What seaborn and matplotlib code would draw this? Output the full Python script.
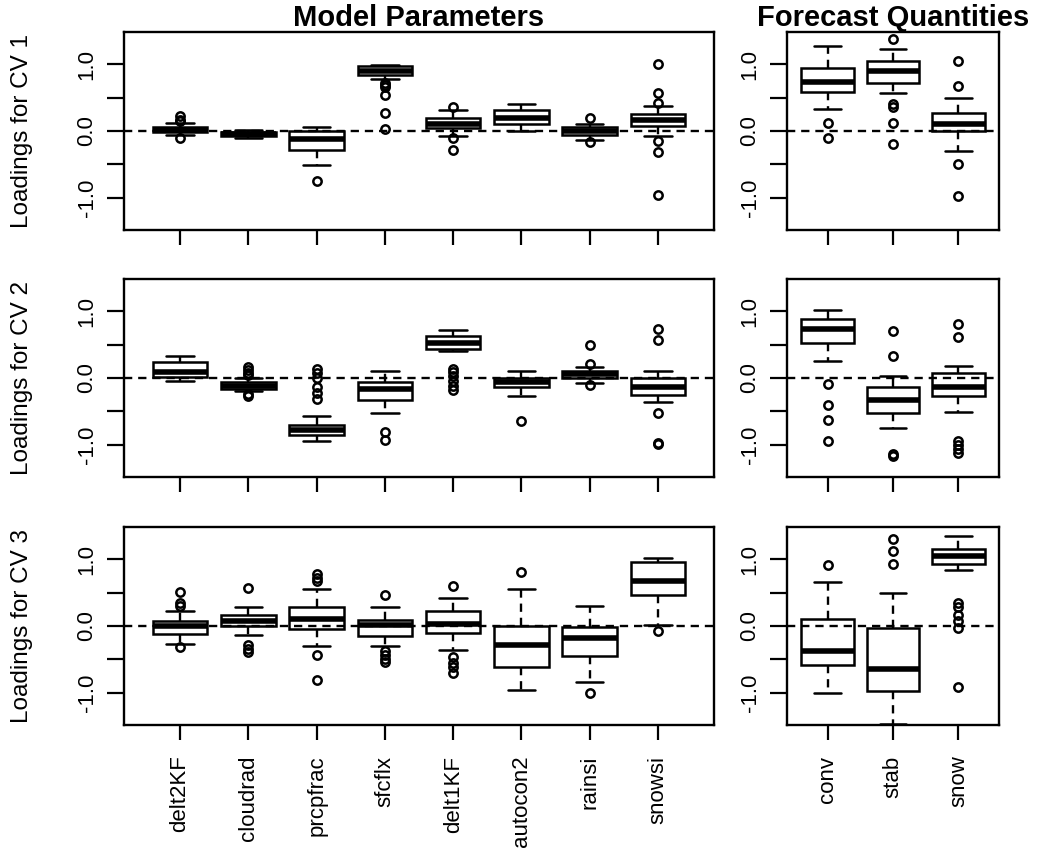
import matplotlib
matplotlib.use("Agg")
import matplotlib.pyplot as plt
import seaborn as sns

# categories
params = ["delt2KF", "cloudrad", "prcpfrac", "sfcflx", "delt1KF", "autocon2", "rainsi", "snowsi"]
quantities = ["conv", "stab", "snow"]

# CV 1 - model parameters (lower whisker, q1, median, q3, upper whisker, outliers)
cv1_par_lo = [-0.06, -0.11, -0.51, 0.77, -0.07, 0.00, -0.13, -0.075]
cv1_par_q1 = [-0.01, -0.08, -0.29, 0.84, 0.04, 0.11, -0.055, 0.07]
cv1_par_med = [0.02, -0.05, -0.125, 0.89, 0.10, 0.20, 0.00, 0.17]
cv1_par_q3 = [0.055, -0.01, 0.00, 0.965, 0.19, 0.32, 0.06, 0.26]
cv1_par_hi = [0.12, 0.02, 0.06, 0.99, 0.32, 0.41, 0.11, 0.37]
cv1_par_out = [[0.23, 0.17, 0.15, -0.10], [], [-0.75], [0.72, 0.69, 0.66, 0.54, 0.27, 0.03],
               [0.36, -0.10, -0.28], [], [0.19, -0.16], [1.0, 0.57, 0.42, -0.15, -0.32, -0.96]]

# CV 1 - forecast quantities
cv1_fq_lo = [0.325, 0.565, -0.30]
cv1_fq_q1 = [0.59, 0.715, 0.005]
cv1_fq_med = [0.74, 0.90, 0.105]
cv1_fq_q3 = [0.94, 1.04, 0.275]
cv1_fq_hi = [1.265, 1.225, 0.49]
cv1_fq_out = [[0.115, -0.10], [1.375, 0.40, 0.365, 0.115, -0.20], [1.04, 0.675, -0.50, -0.975]]

# CV 2 - model parameters
cv2_par_lo = [-0.04, -0.20, -0.94, -0.52, 0.40, -0.27, -0.075, -0.36]
cv2_par_q1 = [0.02, -0.165, -0.85, -0.33, 0.44, -0.14, 0.00, -0.26]
cv2_par_med = [0.09, -0.12, -0.77, -0.16, 0.53, -0.06, 0.06, -0.14]
cv2_par_q3 = [0.24, -0.065, -0.70, -0.065, 0.63, 0.00, 0.11, 0.00]
cv2_par_hi = [0.33, 0.00, -0.57, 0.11, 0.72, 0.10, 0.17, 0.11]
cv2_par_out = [[], [0.16, 0.12, 0.08, 0.05, -0.24, -0.27], [0.14, 0.07, 0.00, -0.13, -0.22, -0.32],
               [-0.80, -0.93], [0.14, 0.09, 0.035, -0.04, -0.12, -0.18], [-0.64],
               [0.49, 0.21, -0.105], [0.73, 0.565, -0.52, -0.975, -0.99]]

# CV 2 - forecast quantities
cv2_fq_lo = [0.26, -0.74, -0.515]
cv2_fq_q1 = [0.525, -0.525, -0.265]
cv2_fq_med = [0.735, -0.325, -0.135]
cv2_fq_q3 = [0.885, -0.135, 0.075]
cv2_fq_hi = [1.015, 0.025, 0.185]
cv2_fq_out = [[-0.085, -0.41, -0.625, -0.935], [0.70, 0.325, -1.135, -1.165],
              [0.80, 0.615, -0.935, -1.0, -1.065, -1.125]]

# CV 3 - model parameters
cv3_par_lo = [-0.27, -0.14, -0.30, -0.30, -0.36, -0.96, -0.84, 0.01]
cv3_par_q1 = [-0.125, 0.00, -0.05, -0.15, -0.10, -0.62, -0.445, 0.465]
cv3_par_med = [-0.005, 0.07, 0.10, 0.01, 0.025, -0.28, -0.18, 0.68]
cv3_par_q3 = [0.075, 0.16, 0.29, 0.095, 0.22, 0.00, -0.015, 0.955]
cv3_par_hi = [0.22, 0.28, 0.555, 0.28, 0.42, 0.55, 0.30, 1.02]
cv3_par_out = [[0.515, 0.34, 0.30, -0.31], [0.575, -0.29, -0.34, -0.39], [0.77, 0.72, 0.67, -0.44, -0.80],
               [0.465, -0.38, -0.44, -0.50, -0.545], [0.60, -0.47, -0.55, -0.62, -0.71], [0.81],
               [-1.0], [-0.075]]

# CV 3 - forecast quantities
cv3_fq_lo = [-1.0, -1.47, 0.835]
cv3_fq_q1 = [-0.58, -0.975, 0.92]
cv3_fq_med = [-0.375, -0.64, 1.045]
cv3_fq_q3 = [0.10, -0.025, 1.145]
cv3_fq_hi = [0.655, 0.50, 1.345]
cv3_fq_out = [[0.905], [1.30, 1.12, 0.93], [0.35, 0.28, 0.165, 0.075, -0.035, -0.915]]


def make_stats(lo, q1, med, q3, hi, out):
    return [dict(whislo=a, q1=b, med=c, q3=d, whishi=e, fliers=f)
            for a, b, c, d, e, f in zip(lo, q1, med, q3, hi, out)]


def draw_panel(ax, stats, labels, show_labels):
    ax.bxp(stats, positions=range(1, len(stats) + 1), widths=0.8, capwidths=0.4,
           patch_artist=True, showfliers=True,
           boxprops=dict(facecolor="white", edgecolor="black", linewidth=1.8),
           medianprops=dict(color="black", linewidth=4.0, solid_capstyle="butt"),
           whiskerprops=dict(color="black", linewidth=1.7, linestyle=(0, (3.5, 2.5))),
           capprops=dict(color="black", linewidth=1.8),
           flierprops=dict(marker="o", markerfacecolor="none", markeredgecolor="black",
                           markersize=6, markeredgewidth=1.8))
    ax.axhline(0, color="black", linewidth=1.7, linestyle=(0, (3.5, 2.5)), zorder=5)
    ax.set_xlim(0.5 - 0.04 * len(stats), len(stats) + 0.5 + 0.04 * len(stats))
    ax.set_ylim(-1.48, 1.48)
    ax.set_yticks([-1.0, -0.5, 0.0, 0.5, 1.0])
    ax.set_yticklabels(["-1.0", "", "0.0", "", "1.0"])
    ax.set_xticks(range(1, len(stats) + 1))
    if show_labels:
        ax.set_xticklabels(labels)
    else:
        ax.set_xticklabels([])
    ax.tick_params(axis="y", labelrotation=90, length=12, width=1.6, pad=7, labelsize=16,
                   color="black", labelcolor="black")
    ax.tick_params(axis="x", labelrotation=90, length=11, width=1.6, pad=11, labelsize=16,
                   color="black", labelcolor="black")
    for lab in ax.get_yticklabels():
        lab.set_verticalalignment("center")
    for s in ax.spines.values():
        s.set_linewidth(1.7)
        s.set_color("black")
    ax.grid(False)


sns.set_style("ticks")
plt.rcParams["font.family"] = ["Liberation Sans", "DejaVu Sans"]
plt.rcParams["text.color"] = "black"
plt.rcParams["axes.labelcolor"] = "black"

W, H = 1061, 850
fig = plt.figure(figsize=(W / 100, H / 100), dpi=100)

rows = [
    (make_stats(cv1_par_lo, cv1_par_q1, cv1_par_med, cv1_par_q3, cv1_par_hi, cv1_par_out),
     make_stats(cv1_fq_lo, cv1_fq_q1, cv1_fq_med, cv1_fq_q3, cv1_fq_hi, cv1_fq_out)),
    (make_stats(cv2_par_lo, cv2_par_q1, cv2_par_med, cv2_par_q3, cv2_par_hi, cv2_par_out),
     make_stats(cv2_fq_lo, cv2_fq_q1, cv2_fq_med, cv2_fq_q3, cv2_fq_hi, cv2_fq_out)),
    (make_stats(cv3_par_lo, cv3_par_q1, cv3_par_med, cv3_par_q3, cv3_par_hi, cv3_par_out),
     make_stats(cv3_fq_lo, cv3_fq_q1, cv3_fq_med, cv3_fq_q3, cv3_fq_hi, cv3_fq_out)),
]
row_tops = [32, 279, 527]
row_h = 198

for i, (par_stats, fq_stats) in enumerate(rows):
    bottom = 1 - (row_tops[i] + row_h) / H
    ax_l = fig.add_axes([124 / W, bottom, 590 / W, row_h / H])
    ax_r = fig.add_axes([787 / W, bottom, 212 / W, row_h / H])
    last = i == len(rows) - 1
    draw_panel(ax_l, par_stats, params, last)
    draw_panel(ax_r, fq_stats, quantities, last)
    fig.text(22 / W, 1 - (row_tops[i] + row_h / 2) / H, f"Loadings for CV {i + 1}",
             rotation=90, ha="center", va="center", fontsize=17.5, color="black")
    if i == 0:
        ax_l.set_title("Model Parameters", fontsize=21, fontweight="bold", pad=3, color="black")
        ax_r.set_title("Forecast Quantities", fontsize=21, fontweight="bold", pad=3, color="black")

fig.savefig("out.png", dpi=100)
